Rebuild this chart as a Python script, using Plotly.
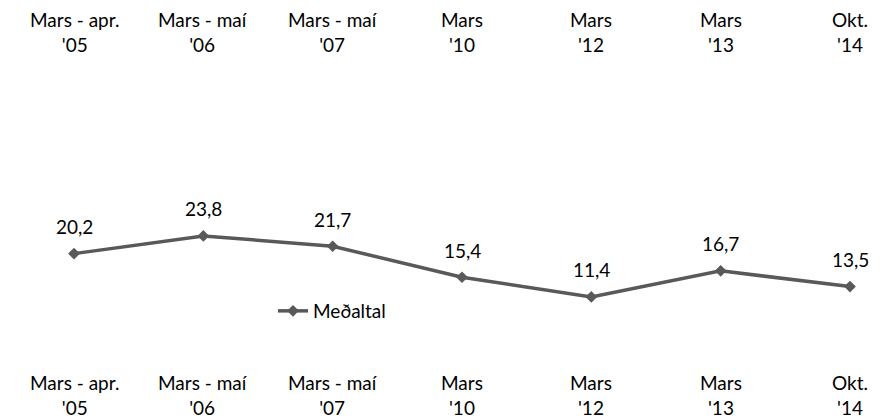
import plotly.graph_objects as go

categories = ["Mars - apr.<br>'05", "Mars - maí<br>'06", "Mars - maí<br>'07", "Mars<br>'10", "Mars<br>'12", "Mars<br>'13", "Okt.<br>'14"]
values = [20.2, 23.8, 21.7, 15.4, 11.4, 16.7, 13.5]
series_name = "Meðaltal"

FONT = "Lato"
COLOR = "#595959"
xs = list(range(len(categories)))

fig = go.Figure()
fig.add_trace(go.Scatter(
    x=xs, y=values, mode="lines+markers", name=series_name,
    line=dict(color=COLOR, width=3.5),
    marker=dict(symbol="diamond", size=9, color=COLOR),
))

for x, v in zip(xs, values):
    fig.add_annotation(x=x, y=v, text=f"{v:.1f}".replace(".", ","), showarrow=False,
                       yshift=27, font=dict(family=FONT, size=19, color="#000000"))

for x, c in zip(xs, categories):
    fig.add_annotation(x=x, y=1, yref="paper", yanchor="top", yshift=-6, text=c, showarrow=False,
                       font=dict(family=FONT, size=19, color="#000000"))
    fig.add_annotation(x=x, y=0, yref="paper", yanchor="bottom", yshift=-1, text=c, showarrow=False,
                       font=dict(family=FONT, size=19, color="#000000"))

fig.update_layout(
    width=888, height=420,
    margin=dict(l=0, r=0, t=0, b=0),
    paper_bgcolor="white", plot_bgcolor="white",
    xaxis=dict(range=[-74/129.33, 6 + 38/129.33], visible=False, fixedrange=True),
    yaxis=dict(range=[-67/4.92, 353/4.92], visible=False, fixedrange=True),
    showlegend=True,
    legend=dict(x=273/888, y=1-311/420, xanchor="left", yanchor="middle",
                font=dict(family=FONT, size=19, color="#000000"), bgcolor="rgba(0,0,0,0)"),
)

fig.write_html("out.html", config={"displayModeBar": False},
               post_script="document.body.style.margin='0';")
